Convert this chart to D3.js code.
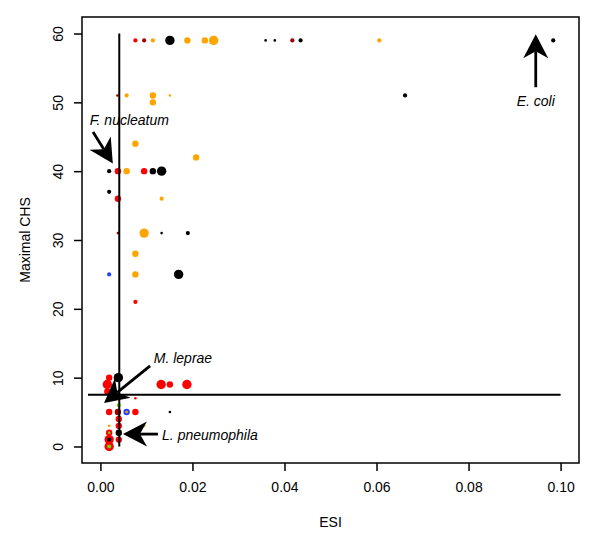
<!DOCTYPE html>
<html>
<head>
<meta charset="utf-8">
<script src="https://cdn.jsdelivr.net/npm/d3@7"></script>
<style>
  body { margin: 0; background: #fff; }
  text { font-family: "Liberation Sans", Arial, sans-serif; }
</style>
</head>
<body>
<svg id="chart" width="600" height="544"></svg>
<script>
// ESI / maximal CHS per organism, group = colour class, weight = point size class
const esi = [
  0.0076, 0.0095, 0.0114, 0.0151, 0.0189, 0.0227, 0.0246, 0.0359, 0.0379, 0.0417, 0.0435, 0.0606, 0.0984,
  0.0037, 0.0057, 0.0114, 0.0151, 0.0662, 0.0114, 0.0076, 0.0208,
  0.0019, 0.0038, 0.0057, 0.0095, 0.0114, 0.0133, 0.0019, 0.0038, 0.0133,
  0.0038, 0.0095, 0.0133, 0.0190, 0.0076, 0.0019, 0.0076, 0.0170, 0.0076,
  0.0015, 0.0015, 0.0019, 0.0039, 0.0132, 0.0151, 0.0188, 0.0076, 0.0040,
  0.0019, 0.0038, 0.0057, 0.0057, 0.0076, 0.0151,
  0.0019, 0.0040, 0.0040, 0.0095,
  0.0019, 0.0019, 0.0040, 0.0019, 0.0019, 0.0040, 0.0019, 0.0019
];
const chs = [
  59, 59, 59, 59, 59, 59, 59, 59, 59, 59, 59, 59, 59,
  51, 51, 51, 51, 51, 50, 44, 42,
  40, 40, 40, 40, 40, 40, 37, 36, 36,
  31, 31, 31, 31, 28, 25, 25, 25, 21,
  9, 8, 10, 10, 9, 9, 9, 7, 6,
  5, 5, 5, 5, 5, 5,
  3, 4, 3, 3,
  2, 2, 2, 1, 1, 1, 0, 0
];
const group = [
  "A", "B", "C", "D", "C", "C", "C", "D", "D", "B", "D", "C", "D",
  "B", "C", "C", "C", "D", "C", "C", "C",
  "D", "A", "C", "A", "D", "D", "D", "A", "C",
  "B", "C", "D", "D", "C", "E", "C", "D", "A",
  "A", "A", "A", "D", "A", "A", "A", "A", "F",
  "A", "B", "E", "C", "A", "D",
  "C", "A", "A", "C",
  "A", "F", "D", "A", "D", "A", "A", "F"
];
const weight = [
  2, 2, 2, 4, 3, 3, 4, 1, 1, 2, 2, 2, 2,
  1, 2, 3, 1, 2, 3, 3, 3,
  2, 3, 3, 3, 3, 4, 2, 3, 2,
  1, 4, 1, 2, 3, 2, 3, 4, 2,
  4, 3, 3, 4, 4, 3, 4, 1, 2,
  3, 3, 3, 1, 3, 1,
  1, 3, 3, 1,
  3, 1, 3, 4, 2, 3, 4, 2
];
const groups = ["A", "B", "C", "D", "E", "F"];
const groupColors = ["#ff0000", "#a00000", "#ffa500", "#000000", "#2244ff", "#66dd00"];

const xTicks = [0, 0.02, 0.04, 0.06, 0.08, 0.10];
const yTicks = [0, 10, 20, 30, 40, 50, 60];

// annotations: label, arrow tail, arrow tip, text position
const labels = ["E. coli", "F. nucleatum", "M. leprae", "L. pneumophila"];
const tailX = [0.0946, -0.0016, 0.0108, 0.0125];
const tailY = [52.2, 45.7, 11.7, 1.8];
const tipX = [0.0946, 0.0027, 0.0008, 0.0049];
const tipY = [59.9, 41.1, 6.3, 1.8];
const textX = [0.0946, -0.0023, 0.0116, 0.0134];
const textY = [50.2, 47.5, 12.9, 1.7];
const textAnchor = ["middle", "start", "start", "start"];

const cutESI = 0.0041, cutCHS = 7.5;

const svg = d3.select("#chart");
const margin = { left: 82, right: 21, top: 17, bottom: 81 };
const W = 600, H = 544;

const x = d3.scaleLinear().domain([-0.004, 0.104]).range([margin.left, W - margin.right]);
const y = d3.scaleLinear().domain([-2.4, 62.4]).range([H - margin.bottom, margin.top]);
const color = d3.scaleOrdinal().domain(groups).range(groupColors);
const radius = d3.scaleOrdinal().domain([1, 2, 3, 4]).range([1.3, 2.1, 3.2, 4.7]);

svg.append("rect").attr("width", W).attr("height", H).attr("fill", "#fff");

// axes
const fs = "14px";
const xAxis = svg.append("g")
  .attr("transform", `translate(0,${H - margin.bottom})`)
  .call(d3.axisBottom(x).tickValues(xTicks).tickFormat(d3.format(".2f")).tickSize(8).tickPadding(11));
xAxis.select(".domain").remove();
xAxis.selectAll("line").attr("stroke", "#000").attr("stroke-width", 1.5);
xAxis.selectAll("text").attr("font-size", fs).attr("fill", "#000")
  .attr("font-family", "Liberation Sans, Arial, sans-serif");

const yAxis = svg.append("g")
  .attr("transform", `translate(${margin.left},0)`)
  .call(d3.axisLeft(y).tickValues(yTicks).tickSize(8).tickPadding(4));
yAxis.select(".domain").remove();
yAxis.selectAll("line").attr("stroke", "#000").attr("stroke-width", 1.5);
yAxis.selectAll("text")
  .attr("font-size", fs).attr("fill", "#000")
  .attr("font-family", "Liberation Sans, Arial, sans-serif")
  .attr("text-anchor", "middle").attr("dy", null)
  .attr("x", null)
  .attr("transform", "translate(-24,0) rotate(-90)")
  .attr("dominant-baseline", "central");

// box
svg.append("rect")
  .attr("x", margin.left).attr("y", margin.top)
  .attr("width", W - margin.left - margin.right)
  .attr("height", H - margin.top - margin.bottom)
  .attr("fill", "none").attr("stroke", "#000").attr("stroke-width", 1.5);

svg.append("text")
  .attr("x", (margin.left + W - margin.right) / 2).attr("y", 522)
  .attr("text-anchor", "middle").attr("dominant-baseline", "central")
  .attr("font-size", fs).text("ESI");

svg.append("text")
  .attr("transform", `translate(25,${(margin.top + H - margin.bottom) / 2}) rotate(-90)`)
  .attr("text-anchor", "middle").attr("dominant-baseline", "central")
  .attr("font-size", fs).text("Maximal CHS");

// points
const pts = esi.map((v, i) => ({ esi: v, chs: chs[i], g: group[i], w: weight[i] }));
svg.append("g").selectAll("circle")
  .data(pts)
  .enter().append("circle")
  .attr("cx", d => x(d.esi))
  .attr("cy", d => y(d.chs))
  .attr("r", d => radius(d.w))
  .attr("fill", d => color(d.g));

// cut-off lines
svg.append("line")
  .attr("x1", x(cutESI)).attr("x2", x(cutESI))
  .attr("y1", y(0)).attr("y2", y(60))
  .attr("stroke", "#000").attr("stroke-width", 2);
svg.append("line")
  .attr("x1", x(-0.0027)).attr("x2", x(0.1))
  .attr("y1", y(cutCHS)).attr("y2", y(cutCHS))
  .attr("stroke", "#000").attr("stroke-width", 2);

// arrows
const ann = labels.map((l, i) => ({
  label: l, x0: x(tailX[i]), y0: y(tailY[i]), x1: x(tipX[i]), y1: y(tipY[i]),
  tx: x(textX[i]), ty: y(textY[i]), anchor: textAnchor[i]
}));

const annG = svg.append("g");
ann.forEach(a => {
  const ang = Math.atan2(a.y1 - a.y0, a.x1 - a.x0);
  const headLen = 24, headW = 12.5, notch = 17;
  annG.append("line")
    .attr("x1", a.x0).attr("y1", a.y0)
    .attr("x2", a.x1 - Math.cos(ang) * notch).attr("y2", a.y1 - Math.sin(ang) * notch)
    .attr("stroke", "#000").attr("stroke-width", 2.8);
  const pt = (along, across) => [
    a.x1 - Math.cos(ang) * along - Math.sin(ang) * across,
    a.y1 - Math.sin(ang) * along + Math.cos(ang) * across
  ];
  const p = [pt(0, 0), pt(headLen, headW), pt(notch, 0), pt(headLen, -headW)];
  annG.append("path")
    .attr("d", "M" + p.map(q => q.join(",")).join("L") + "Z")
    .attr("fill", "#000");
  annG.append("text")
    .attr("x", a.tx).attr("y", a.ty)
    .attr("text-anchor", a.anchor).attr("dominant-baseline", "central")
    .attr("font-size", fs).attr("font-style", "italic")
    .text(a.label);
});
</script>
</body>
</html>
